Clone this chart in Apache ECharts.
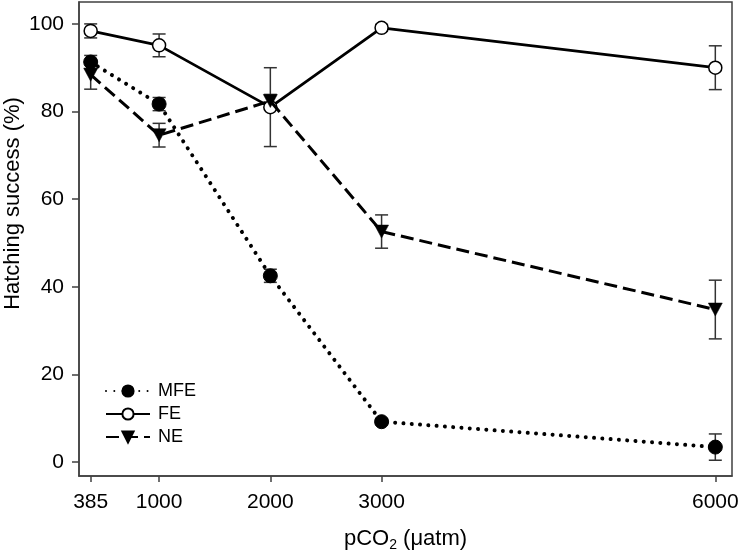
<!DOCTYPE html>
<html>
<head>
<meta charset="utf-8">
<script src="https://cdn.jsdelivr.net/npm/echarts@6/dist/echarts.min.js"></script>
<style>
html,body{margin:0;padding:0;background:#fff;}
#chart{width:740px;height:552px;}
</style>
</head>
<body>
<div id="chart"></div>
<script>
const pco2 = [385, 1000, 2000, 3000, 6000];
const xTicks = [385, 1000, 2000, 3000, 6000];
const yTicks = [0, 20, 40, 60, 80, 100];
const mfeMean = [91.3, 81.7, 42.5, 9.2, 3.4];
const mfeErr  = [1.5, 1.5, 1.5, 0.7, 3.0];
const feMean  = [98.4, 95.1, 81.0, 99.1, 90.0];
const feErr   = [1.6, 2.6, 9.0, 0.8, 5.0];
const neMean  = [88.4, 74.6, 82.4, 52.6, 34.8];
const neErr   = [3.3, 2.7, 1.5, 3.8, 6.7];

const FONT = '"Liberation Sans", Arial, sans-serif';
const pts = (m) => pco2.map((x, i) => [x, m[i]]);
const errs = (m, e) => pco2.map((x, i) => [x, m[i] - e[i], m[i] + e[i]]);

function errSeries(m, e) {
  return {
    type: 'custom',
    z: 1,
    silent: true,
    data: errs(m, e),
    renderItem: function (params, api) {
      const x = api.value(0);
      const lo = api.coord([x, api.value(1)]);
      const hi = api.coord([x, api.value(2)]);
      const hw = 6.5;
      const st = { stroke: '#333', lineWidth: 1.5 };
      return {
        type: 'group',
        children: [
          { type: 'line', shape: { x1: lo[0], y1: lo[1], x2: hi[0], y2: hi[1] }, style: st },
          { type: 'line', shape: { x1: lo[0] - hw, y1: lo[1], x2: lo[0] + hw, y2: lo[1] }, style: st },
          { type: 'line', shape: { x1: hi[0] - hw, y1: hi[1], x2: hi[0] + hw, y2: hi[1] }, style: st }
        ]
      };
    }
  };
}

const chart = echarts.init(document.getElementById('chart'), null, { renderer: 'canvas' });
chart.setOption({
  animation: false,
  backgroundColor: '#fff',
  textStyle: { fontFamily: FONT },
  grid: { left: 79, right: 8, top: 2, bottom: 76, containLabel: false, outerBoundsMode: 'none',
    show: true, borderColor: '#404040', borderWidth: 1.5, backgroundColor: 'transparent' },
  xAxis: {
    type: 'value', min: 280, max: 6150,
    splitLine: { show: false },
    axisLine: { show: true, onZero: false, lineStyle: { color: '#404040', width: 1.5 } },
    axisTick: { show: true, length: 6, customValues: xTicks, lineStyle: { color: '#404040', width: 1.5 } },
    axisLabel: { customValues: xTicks, formatter: (v) => String(v), color: '#000', fontSize: 21, fontFamily: FONT, margin: 16 },
    name: 'pCO{sub|2} (μatm)',
    nameLocation: 'middle', nameGap: 50,
    nameTextStyle: { color: '#000', fontSize: 22, fontFamily: FONT,
      rich: { sub: { fontSize: 14, fontFamily: FONT, color: '#000', verticalAlign: 'bottom', padding: [12, 0, 0, 0] } } }
  },
  yAxis: {
    type: 'value', min: -3.2, max: 105,
    splitLine: { show: false },
    axisLine: { show: true, onZero: false, lineStyle: { color: '#404040', width: 1.5 } },
    axisTick: { show: true, length: 7, customValues: yTicks, lineStyle: { color: '#404040', width: 1.5 } },
    axisLabel: { customValues: yTicks, formatter: (v) => String(v), color: '#000', fontSize: 21, fontFamily: FONT, margin: 15 },
    name: 'Hatching success (%)',
    nameLocation: 'middle', nameGap: 55, nameRotate: 90, nameMoveOverlap: false,
    nameTextStyle: { color: '#000', fontSize: 22, fontFamily: FONT, padding: [0, 0, 0, 71] }
  },
  legend: {
    data: ['MFE', 'FE', 'NE'],
    orient: 'vertical',
    left: 105, top: 382,
    padding: 0,
    itemWidth: 44, itemHeight: 14, itemGap: 5,
    textStyle: { color: '#000', fontSize: 18, lineHeight: 14, fontFamily: FONT, padding: [0, 0, 0, 3] }
  },
  series: [
    errSeries(mfeMean, mfeErr),
    errSeries(feMean, feErr),
    errSeries(neMean, neErr),
    {
      name: 'MFE', type: 'line', z: 3, data: pts(mfeMean),
      symbol: 'circle', symbolSize: 14,
      itemStyle: { color: '#000', borderColor: '#000', borderWidth: 1 },
      lineStyle: { color: '#000', width: 4, type: [0.01, 8.3], cap: 'round' }
    },
    {
      name: 'FE', type: 'line', z: 4, data: pts(feMean),
      symbol: 'circle', symbolSize: 13,
      itemStyle: { color: '#fff', borderColor: '#000', borderWidth: 1.5 },
      lineStyle: { color: '#000', width: 2.8, type: 'solid' }
    },
    {
      name: 'NE', type: 'line', z: 5, data: pts(neMean),
      symbol: 'path://M0,0 L10,0 L5,9 Z', symbolSize: [14, 13],
      itemStyle: { color: '#000', borderColor: '#000', borderWidth: 0.5 },
      lineStyle: { color: '#000', width: 3, type: [13, 6] }
    }
  ]
});
</script>
</body>
</html>
